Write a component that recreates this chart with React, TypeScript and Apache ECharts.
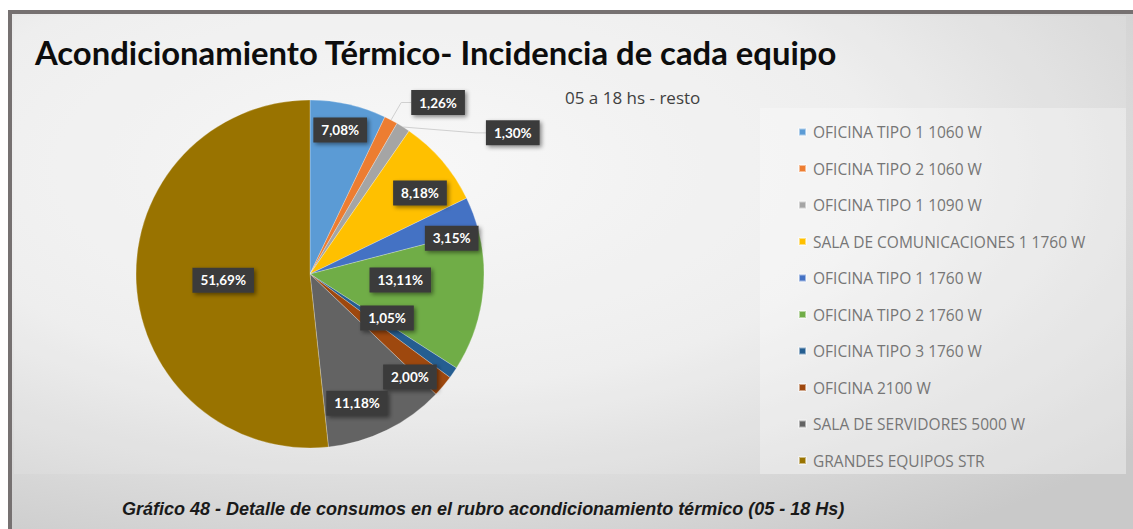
import React, { useEffect, useRef } from "react";
import * as echarts from "echarts";

const categories = [
  "OFICINA TIPO 1 1060 W",
  "OFICINA TIPO 2 1060 W",
  "OFICINA TIPO 1 1090 W",
  "SALA DE COMUNICACIONES 1 1760 W",
  "OFICINA TIPO 1 1760 W",
  "OFICINA TIPO 2 1760 W",
  "OFICINA TIPO 3 1760 W",
  "OFICINA 2100 W",
  "SALA DE SERVIDORES 5000 W",
  "GRANDES EQUIPOS STR",
];
const values = [7.08, 1.26, 1.3, 8.18, 3.15, 13.11, 1.05, 2.0, 11.18, 51.69];
const colors = [
  "#5b9bd5",
  "#ed7d31",
  "#a5a5a5",
  "#ffc000",
  "#4472c4",
  "#70ad47",
  "#255e91",
  "#9e480e",
  "#636363",
  "#997300",
];
// label placement (style): radius fraction and angle adjustment in degrees
const labelRadius = [0.845, 1.23, 1.42, 0.785, 0.84, 0.52, 0.51, 0.825, 0.79, 0.5];
const labelAngleAdj = [-0.9, 9, 22.8, 4.2, 6, -5.3, -4.8, 5.8, 6.2, -1];
const outsideLabels = [1, 2];

const TITLE = "Acondicionamiento Térmico- Incidencia de cada equipo";
const SUBTITLE = "05 a 18 hs - resto";
const CAPTION =
  "Gráfico 48 - Detalle de consumos en el rubro acondicionamiento térmico (05 - 18 Hs)";

const W = 1133;
const H = 529;
const CX = 310;
const CY = 274;
const R = 174;

export default function App() {
  const ref = useRef<HTMLDivElement>(null);
  useEffect(() => {
    if (!ref.current) return;
    const chart = echarts.init(ref.current, null, { renderer: "svg" });
    const total = values.reduce((a, b) => a + b, 0);
    const starts: number[] = [];
    let acc = 0;
    values.forEach((v) => {
      starts.push(acc);
      acc += v;
    });
    const fmt = (v: number) => v.toFixed(2).replace(".", ",") + "%";

    chart.setOption({
      animation: false,
      color: colors,
      graphic: [
        { type: "rect", silent: true, z: -10, shape: { x: 8, y: 10, width: W - 8, height: H - 10 }, style: { fill: "#767171" } },
        {
          type: "rect",
          silent: true,
          z: -9,
          shape: { x: 12, y: 14, width: W - 12, height: H - 14 },
          style: {
            fill: new echarts.graphic.RadialGradient(0.35, 0.3, 0.85, [
              { offset: 0, color: "#f7f7f7" },
              { offset: 0.5, color: "#ececec" },
              { offset: 1, color: "#c9c9c9" },
            ]),
          },
        },
        { type: "rect", silent: true, z: -8, shape: { x: 14, y: 16, width: 1112, height: 458 }, style: { fill: "rgba(255,255,255,0.12)" } },
        { type: "rect", silent: true, z: -7, shape: { x: 760, y: 108, width: 366, height: 366 }, style: { fill: "rgba(255,255,255,0.3)" } },
        {
          type: "text",
          left: 35,
          top: 36,
          style: { text: TITLE, fontFamily: "Lato", fontWeight: "bold", fontSize: 32.8, fill: "#0d0d0d" },
        },
        {
          type: "text",
          left: 565,
          top: 89,
          style: { text: SUBTITLE, fontFamily: "Open Sans", fontSize: 17, fill: "#404040" },
        },
        {
          type: "text",
          left: 122,
          top: 500,
          style: { text: CAPTION, fontFamily: "Liberation Sans", fontWeight: "bold", fontStyle: "italic", fontSize: 18, fill: "#1a1a1a" },
        },
      ],
      legend: {
        orient: "vertical",
        left: 793,
        top: 119,
        icon: "rect",
        itemWidth: 7,
        itemHeight: 7,
        itemGap: 20.5,
        data: categories,
        textStyle: { color: "#767676", fontSize: 15.5, fontFamily: "Open Sans", lineHeight: 14, padding: [0, 0, 0, 2] },
      },
      series: [
        {
          type: "pie",
          center: [CX, CY],
          radius: R,
          startAngle: 90,
          clockwise: true,
          avoidLabelOverlap: false,
          itemStyle: { borderColor: "rgba(255,255,255,0.5)", borderWidth: 0.5 },
          label: {
            show: true,
            position: "inside",
            formatter: (p: any) => fmt(p.value),
            color: "#ffffff",
            fontWeight: "bold",
            fontFamily: "Lato",
            fontSize: 13.5,
            backgroundColor: "#3b3b3b",
            padding: [6, 8, 5, 8],
            shadowColor: "rgba(0,0,0,0.45)",
            shadowBlur: 4,
            shadowOffsetX: 2,
            shadowOffsetY: 2,
          },
          labelLine: { show: false },
          labelLayout: (p: any) => {
            const i = p.dataIndex;
            const mid = ((starts[i] + values[i] / 2) / total) * 360 + labelAngleAdj[i];
            const a = (mid * Math.PI) / 180;
            const r = R * labelRadius[i];
            return {
              x: CX + r * Math.sin(a),
              y: CY - r * Math.cos(a),
              align: "center",
              verticalAlign: "middle",
            };
          },
          data: categories.map((name, i) => {
            const item: any = { name, value: values[i] };
            if (outsideLabels.includes(i)) {
              item.label = { position: "outside" };
              item.labelLine = { show: true, length: 10, length2: 10, lineStyle: { color: "#d0d0d0", width: 1 } };
            }
            return item;
          }),
        },
      ],
    });
    return () => chart.dispose();
  }, []);
  return <div ref={ref} style={{ position: "absolute", left: 0, top: 0, width: W, height: H, background: "#ffffff" }} />;
}
